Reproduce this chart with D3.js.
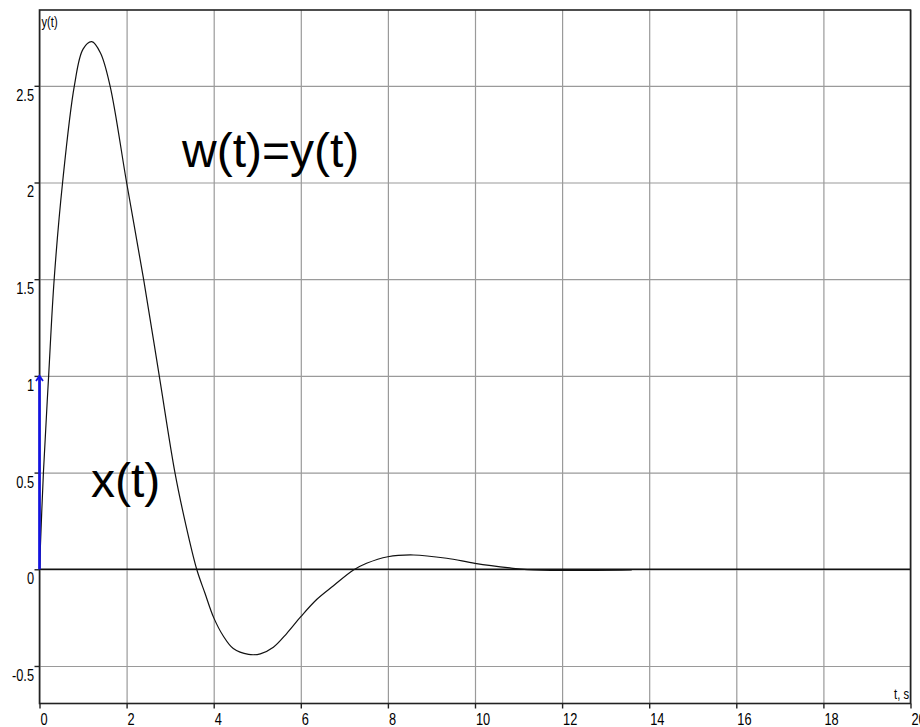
<!DOCTYPE html>
<html>
<head>
<meta charset="utf-8">
<script src="https://cdn.jsdelivr.net/npm/d3@7"></script>
<style>
  html, body { margin: 0; padding: 0; background: #ffffff; }
  svg { display: block; }
  .tick text { font-family: "Liberation Sans", Arial, sans-serif; font-size: 16px; fill: #000; }
</style>
</head>
<body>
<svg id="chart" width="920" height="727"></svg>
<script>
// ---- data ----
const tValues = [0, 0.09, 0.21, 0.337, 0.53, 0.8, 1.0, 1.2, 1.4, 1.62, 2.0, 2.39, 2.75, 3.11, 3.35, 3.61, 3.8, 4.0, 4.22, 4.45, 4.8, 5.07, 5.37, 5.68, 6.0, 6.37, 6.75, 7.21, 7.51, 8.0, 8.59, 9.35, 10.0, 10.8, 11.2, 12.0, 13.6];
const wValues = [0, 0.5, 1.0, 1.5, 2.0, 2.5, 2.69, 2.728, 2.67, 2.5, 2.0, 1.5, 1.0, 0.5, 0.24, 0, -0.124, -0.25, -0.345, -0.41, -0.44, -0.437, -0.403, -0.331, -0.245, -0.155, -0.085, -0.004, 0.031, 0.065, 0.074, 0.057, 0.031, 0.007, -0.002, -0.006, -0.003];
const impulseT = [0, 0];
const impulseX = [0, 1];
const xTickValues = [0, 2, 4, 6, 8, 10, 12, 14, 16, 18, 20];
const yTickValues = [-0.5, 0, 0.5, 1, 1.5, 2, 2.5];
const yTickLabels = ["-0.5", "0", "0.5", "1", "1.5", "2", "2.5"];
const xDomain = [0, 20];
const yDomain = [-0.694, 2.892];
const curveLabel = "w(t)=y(t)";
const inputLabel = "x(t)";
const yAxisTitle = "y(t)";
const xAxisTitle = "t, s";

// ---- layout ----
const L = 39.5, R = 910.5, T = 10, B = 703.5;
const NARROW = 0.8; // horizontal squeeze to imitate a narrow face
const svg = d3.select("#chart");
const x = d3.scaleLinear().domain(xDomain).range([L, R]);
const y = d3.scaleLinear().domain(yDomain).range([B, T]);

// grid
svg.append("g").attr("transform", `translate(0,${B})`)
  .call(d3.axisBottom(x).tickValues(xTickValues).tickSize(-(B - T)).tickFormat(""))
  .call(g => g.select(".domain").remove())
  .call(g => g.selectAll(".tick line").attr("stroke", "#9a9a9a").attr("stroke-width", 1.2));
svg.append("g").attr("transform", `translate(${L},0)`)
  .call(d3.axisLeft(y).tickValues(yTickValues).tickSize(-(R - L)).tickFormat(""))
  .call(g => g.select(".domain").remove())
  .call(g => g.selectAll(".tick line").attr("stroke", "#9a9a9a").attr("stroke-width", 1.2));

// zero line
svg.append("line")
  .attr("x1", L).attr("x2", R).attr("y1", y(0)).attr("y2", y(0))
  .attr("stroke", "#111").attr("stroke-width", 1.6);

// border
svg.append("rect").attr("x", L).attr("y", T).attr("width", R - L).attr("height", B - T)
  .attr("fill", "none").attr("stroke", "#222").attr("stroke-width", 1.6);

// x axis ticks and labels
svg.append("g").attr("transform", `translate(0,${B})`)
  .call(d3.axisBottom(x).tickValues(xTickValues).tickSize(5).tickPadding(6).tickFormat(d3.format("d")))
  .call(g => g.select(".domain").remove())
  .call(g => g.selectAll(".tick line").attr("stroke", "#222").attr("stroke-width", 1.4))
  .call(g => g.selectAll(".tick text")
    .attr("text-anchor", "start").attr("x", 0.5 / NARROW).attr("y", 21.5).attr("dy", "0")
    .attr("transform", `scale(${NARROW},1)`));

// y axis ticks and labels
svg.append("g").attr("transform", `translate(${L},0)`)
  .call(d3.axisLeft(y).tickValues(yTickValues).tickSize(5).tickPadding(6).tickFormat((d, i) => yTickLabels[i]))
  .call(g => g.select(".domain").remove())
  .call(g => g.selectAll(".tick line").attr("stroke", "#222").attr("stroke-width", 1.4))
  .call(g => g.selectAll(".tick text")
    .attr("x", -5.5 / NARROW).attr("dy", "0").attr("y", 14.5)
    .attr("transform", `scale(${NARROW},1)`));

// axis titles
svg.append("text").attr("transform", `translate(${L + 2},27) scale(${NARROW},1)`)
  .attr("font-family", '"Liberation Sans", Arial, sans-serif').attr("font-size", 14)
  .text(yAxisTitle);
svg.append("text").attr("transform", `translate(${R - 1.5},699) scale(${NARROW},1)`).attr("text-anchor", "end")
  .attr("font-family", '"Liberation Sans", Arial, sans-serif').attr("font-size", 14)
  .text(xAxisTitle);

// response curve
const pts = tValues.map((t, i) => [t, wValues[i]]);
svg.append("path").datum(pts)
  .attr("fill", "none").attr("stroke", "#111").attr("stroke-width", 1.2)
  .attr("d", d3.line().x(d => x(d[0])).y(d => y(d[1])).curve(d3.curveCatmullRom.alpha(0.5)));

// impulse arrow
const imp = impulseT.map((t, i) => [t, impulseX[i]]);
svg.append("path").datum(imp)
  .attr("fill", "none").attr("stroke", "#1212e6").attr("stroke-width", 2.6)
  .attr("d", d3.line().x(d => x(d[0])).y(d => y(d[1])));
const tipX = x(impulseT[1]), tipY = y(impulseX[1]);
svg.append("path")
  .attr("d", `M${tipX - 3.5},${tipY + 5} L${tipX},${tipY} L${tipX + 3.5},${tipY + 5}`)
  .attr("fill", "none").attr("stroke", "#1212e6").attr("stroke-width", 1.8);

// big labels
svg.append("text").attr("x", 182).attr("y", 167)
  .attr("font-family", '"Liberation Sans", Arial, sans-serif').attr("font-size", 48).attr("fill", "#000")
  .text(curveLabel);
svg.append("text").attr("x", 91).attr("y", 497)
  .attr("font-family", '"Liberation Sans", Arial, sans-serif').attr("font-size", 48).attr("fill", "#000")
  .text(inputLabel);
</script>
</body>
</html>
